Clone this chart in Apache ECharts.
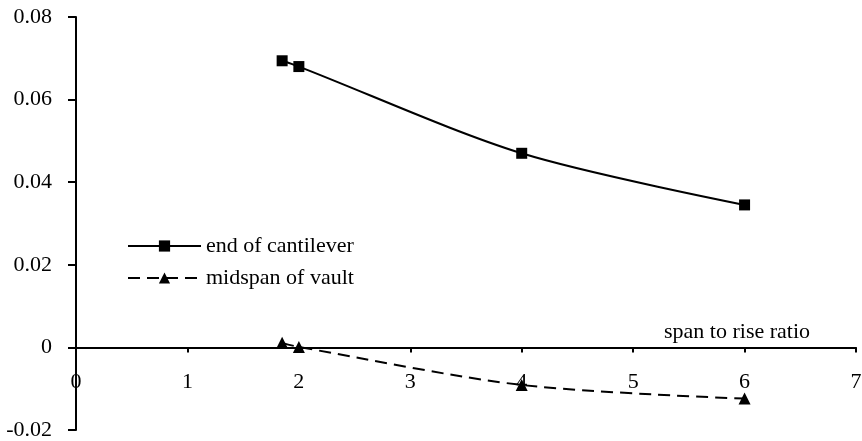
<!DOCTYPE html>
<html>
<head>
<meta charset="utf-8">
<script src="https://cdn.jsdelivr.net/npm/echarts@6/dist/echarts.min.js"></script>
<style>html,body{margin:0;padding:0;background:#fff;}#c{width:862px;height:441px;}</style>
</head>
<body>
<div id="c"></div>
<script>
var spanRatios = [1.85, 2, 4, 6];
var endOfCantilever = [0.0694, 0.068, 0.047, 0.0345];
var midspanOfVault = [0.0011, 0.0001, -0.0091, -0.0124];
var seriesNames = ['end of cantilever', 'midspan of vault'];
var xAxisTitle = 'span to rise ratio';

var FONT = "'Liberation Serif', 'Times New Roman', serif";
function pairs(xs, ys) { return xs.map(function (x, i) { return [x, ys[i]]; }); }

var chart = echarts.init(document.getElementById('c'), null, { renderer: 'canvas' });
chart.setOption({
  animation: false,
  backgroundColor: '#fff',
  textStyle: { fontFamily: FONT, color: '#000' },
  grid: { left: 76, top: 17, right: 6, bottom: 11, containLabel: false, outerBoundsMode: 'none' },
  xAxis: {
    type: 'value', min: 0, max: 7, interval: 1,
    axisLine: { onZero: true, lineStyle: { color: '#000', width: 2 } },
    axisTick: { show: true, inside: false, length: 5, lineStyle: { color: '#000', width: 2 } },
    axisLabel: { margin: -59, fontSize: 22, fontFamily: FONT, color: '#000', hideOverlap: false },
    splitLine: { show: false }
  },
  yAxis: {
    type: 'value', min: -0.02, max: 0.08, interval: 0.02,
    axisLine: { show: true, onZero: false, lineStyle: { color: '#000', width: 2 } },
    axisTick: { show: true, inside: false, length: 8, lineStyle: { color: '#000', width: 2 } },
    axisLabel: { margin: 24, fontSize: 22, fontFamily: FONT, color: '#000' },
    splitLine: { show: false }
  },
  legend: {
    orient: 'vertical', left: 127, top: 235, padding: 0,
    itemWidth: 73, itemHeight: 14, itemGap: 10,
    textStyle: { fontSize: 22, fontFamily: FONT, color: '#000' },
    data: seriesNames
  },
  graphic: [{
    type: 'text', left: 664, top: 321,
    style: { text: xAxisTitle, font: '22px ' + FONT, fill: '#000' }
  }],
  series: [{
    name: seriesNames[0], type: 'line', smooth: 0.3,
    data: pairs(spanRatios, endOfCantilever),
    symbol: 'rect', symbolSize: 11,
    lineStyle: { color: '#000', width: 2, type: 'solid' },
    itemStyle: { color: '#000' }
  }, {
    name: seriesNames[1], type: 'line', smooth: 0.3,
    data: pairs(spanRatios, midspanOfVault),
    symbol: 'triangle', symbolSize: 12,
    lineStyle: { color: '#000', width: 2, type: [12, 7] },
    itemStyle: { color: '#000' }
  }]
});
</script>
</body>
</html>
